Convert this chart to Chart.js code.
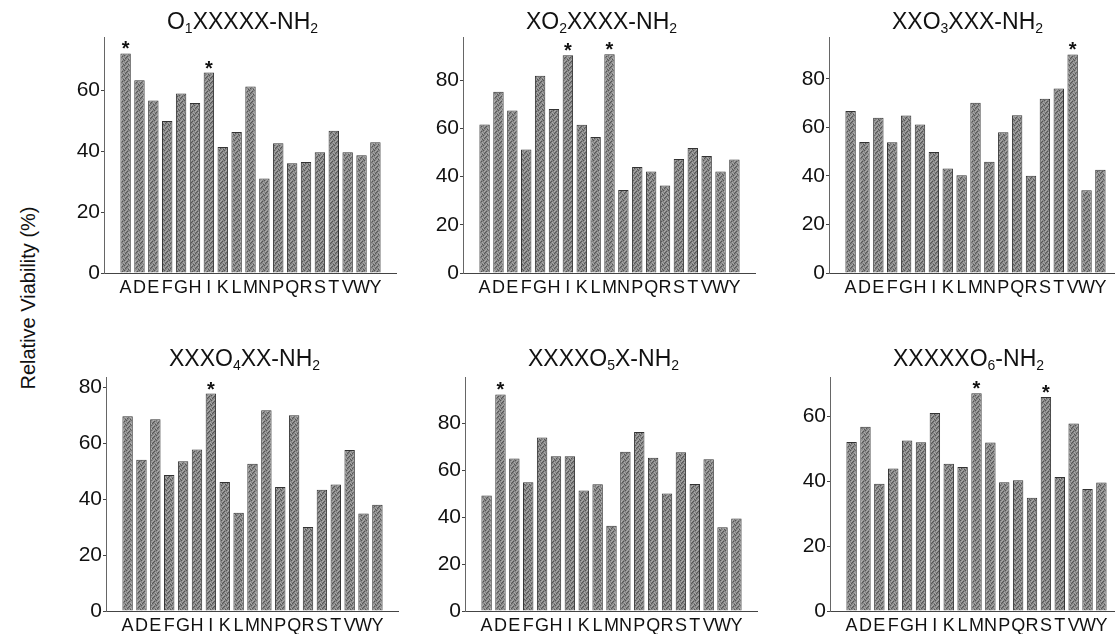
<!DOCTYPE html>
<html>
<head>
<meta charset="utf-8">
<script src="https://cdn.jsdelivr.net/npm/chart.js@4/dist/chart.umd.min.js"></script>
<style>
html,body{margin:0;padding:0;background:#fff;width:1115px;height:634px;overflow:hidden;position:relative;}
canvas{position:absolute;}
#ylab{position:absolute;left:28px;top:298px;transform:translate(-50%,-50%) rotate(-90deg);font:20px "Liberation Sans",Arial,sans-serif;color:#111;white-space:nowrap;}
</style>
</head>
<body>
<div id="ylab">Relative Viability (%)</div>
<canvas id="c1" width="353" height="303" style="left:44px;top:0px"></canvas>
<canvas id="c2" width="353" height="303" style="left:403px;top:0px"></canvas>
<canvas id="c3" width="353" height="303" style="left:769px;top:0px"></canvas>
<canvas id="c4" width="353" height="294" style="left:46px;top:340px"></canvas>
<canvas id="c5" width="353" height="294" style="left:405px;top:340px"></canvas>
<canvas id="c6" width="353" height="294" style="left:770px;top:340px"></canvas>
<script>
// ---- data ----
const categories = ['A','D','E','F','G','H','I','K','L','M','N','P','Q','R','S','T','V','W','Y'];
const titles = ['O\u2081XXXXX-NH\u2082','XO\u2082XXXX-NH\u2082','XXO\u2083XXX-NH\u2082','XXXO\u2084XX-NH\u2082','XXXXO\u2085X-NH\u2082','XXXXXO\u2086-NH\u2082'];
const pos1 = [72.2,63.4,56.7,50.0,59.0,55.9,65.9,41.4,46.4,61.3,31.1,42.7,36.1,36.5,39.7,46.8,39.7,38.7,43.0];
const pos2 = [61.7,75.3,67.5,51.3,81.9,68.1,90.4,61.6,56.5,90.8,34.5,44.0,42.2,36.3,47.3,51.9,48.6,42.2,47.1];
const pos3 = [66.7,54.0,63.9,53.9,64.9,61.2,49.8,43.0,40.3,70.1,45.8,58.0,65.0,40.1,71.8,76.0,90.0,34.1,42.5];
const pos4 = [69.6,54.0,68.5,48.6,53.5,57.7,77.7,46.1,35.1,52.6,71.7,44.3,69.9,30.0,43.3,45.2,57.5,34.8,38.0];
const pos5 = [49.2,92.2,64.9,54.8,73.8,65.9,65.9,51.3,54.0,36.3,67.8,76.2,65.2,50.0,67.6,54.1,64.6,35.6,39.4];
const pos6 = [52.1,56.8,39.2,43.9,52.5,52.0,61.0,45.4,44.4,67.1,51.9,39.7,40.3,34.9,65.9,41.3,57.8,37.6,39.6];
const stars1 = ['A','I'];
const stars2 = ['I','M'];
const stars3 = ['V'];
const stars4 = ['I'];
const stars5 = ['D'];
const stars6 = ['M','S'];
const yMaxes = [77.6, 98, 97.2, 83.6, 99.6, 72.1];
const yStep = 20;

// ---- rendering ----
const FONT = '"Liberation Sans", Arial, sans-serif';
Chart.defaults.font.family = FONT;
Chart.defaults.color = '#111';

// fixed halftone-like tile for the scanned grey bars
function makePattern(){
  const c = document.createElement('canvas');
  c.width = 5; c.height = 5;
  const g = c.getContext('2d');
  const D = '#555555', L = '#aaaaaa', B = '#868686';
  const rows = [[D,B,L,B,B],[B,L,B,D,B],[B,B,D,B,L],[L,D,B,B,B],[B,B,B,L,D]];
  rows.forEach((r,y) => r.forEach((col,x) => { g.fillStyle = col; g.fillRect(x,y,1,1); }));
  return g.createPattern(c,'repeat');
}
const barFill = makePattern();

function starPlugin(letters){
  return {
    id: 'stars',
    afterDatasetsDraw(chart){
      const meta = chart.getDatasetMeta(0);
      const ctx = chart.ctx;
      ctx.save();
      ctx.fillStyle = '#111';
      ctx.font = 'bold 20px ' + FONT;
      ctx.textAlign = 'center';
      ctx.textBaseline = 'alphabetic';
      letters.forEach(l => {
        const el = meta.data[categories.indexOf(l)];
        if (el) ctx.fillText('*', el.x, el.y + 2);
      });
      ctx.restore();
    }
  };
}

// panel title with real subscripts (smaller, lowered digits)
function titlePlugin(text, capCenterY){
  return {
    id: 'ptitle',
    afterDraw(chart){
      const ctx = chart.ctx, ca = chart.chartArea;
      const big = '23px ' + FONT, small = '14px ' + FONT;
      const parts = [];
      for (const ch of text) {
        const code = ch.codePointAt(0);
        if (code >= 0x2080 && code <= 0x2089) parts.push({t: String.fromCharCode(48 + code - 0x2080), sub: true});
        else parts.push({t: ch, sub: false});
      }
      ctx.save();
      let w = 0;
      parts.forEach(p => { ctx.font = p.sub ? small : big; p.w = ctx.measureText(p.t).width; w += p.w; });
      let x = (ca.left + ca.right) / 2 - 8 - w / 2;
      const base = capCenterY + 8.2;
      ctx.fillStyle = '#111';
      ctx.textAlign = 'left';
      ctx.textBaseline = 'alphabetic';
      parts.forEach(p => {
        ctx.font = p.sub ? small : big;
        ctx.fillText(p.t, x, p.sub ? base + 4 : base);
        x += p.w;
      });
      ctx.restore();
    }
  };
}

function makeChart(id, values, yMax, title, stars, padTop, titleY, xH){
  new Chart(document.getElementById(id), {
    type: 'bar',
    data: {
      datasets: [{
        label: title,
        data: values.map((v,i) => ({x: i + 1, y: v})),
        backgroundColor: barFill,
        borderColor: '#333333',
        borderWidth: 1,
        borderSkipped: 'start',
        categoryPercentage: 1,
        barPercentage: 0.75
      }]
    },
    options: {
      responsive: false,
      animation: false,
      devicePixelRatio: 1,
      layout: {padding: {top: padTop, left: 0, right: 0, bottom: 0}},
      plugins: {
        legend: {display: false},
        tooltip: {enabled: false},
        title: {display: false}
      },
      scales: {
        x: {
          type: 'linear', min: 0, max: categories.length + 1,
          afterBuildTicks: s => { s.ticks = categories.map((c,i) => ({value: i + 1})); },
          afterFit: s => { s.height = xH; },
          ticks: {autoSkip: false, maxRotation: 0, minRotation: 0, padding: 4, color: '#111',
                  font: {family: FONT, size: 18},
                  callback: v => categories[v - 1] || ''},
          grid: {display: false, drawTicks: false},
          border: {display: true, color: '#444', width: 1}
        },
        y: {
          min: 0, max: yMax,
          afterFit: s => { s.width = 60; },
          ticks: {stepSize: yStep, includeBounds: false, padding: 1, color: '#111',
                  font: {family: FONT, size: 21},
                  callback: v => (v % yStep === 0 ? String(v) : '')},
          grid: {drawOnChartArea: false, drawTicks: true, tickLength: 3, color: '#444'},
          border: {display: true, color: '#666', width: 1}
        }
      }
    },
    plugins: [starPlugin(stars), titlePlugin(title, titleY)]
  });
}

makeChart('c1', pos1, yMaxes[0], titles[0], stars1, 37, 21, 30);
makeChart('c2', pos2, yMaxes[1], titles[1], stars2, 37, 21, 30);
makeChart('c3', pos3, yMaxes[2], titles[2], stars3, 37, 21, 30);
makeChart('c4', pos4, yMaxes[3], titles[3], stars4, 37, 18, 23);
makeChart('c5', pos5, yMaxes[4], titles[4], stars5, 37, 18, 23);
makeChart('c6', pos6, yMaxes[5], titles[5], stars6, 37, 18, 23);
</script>
</body>
</html>
